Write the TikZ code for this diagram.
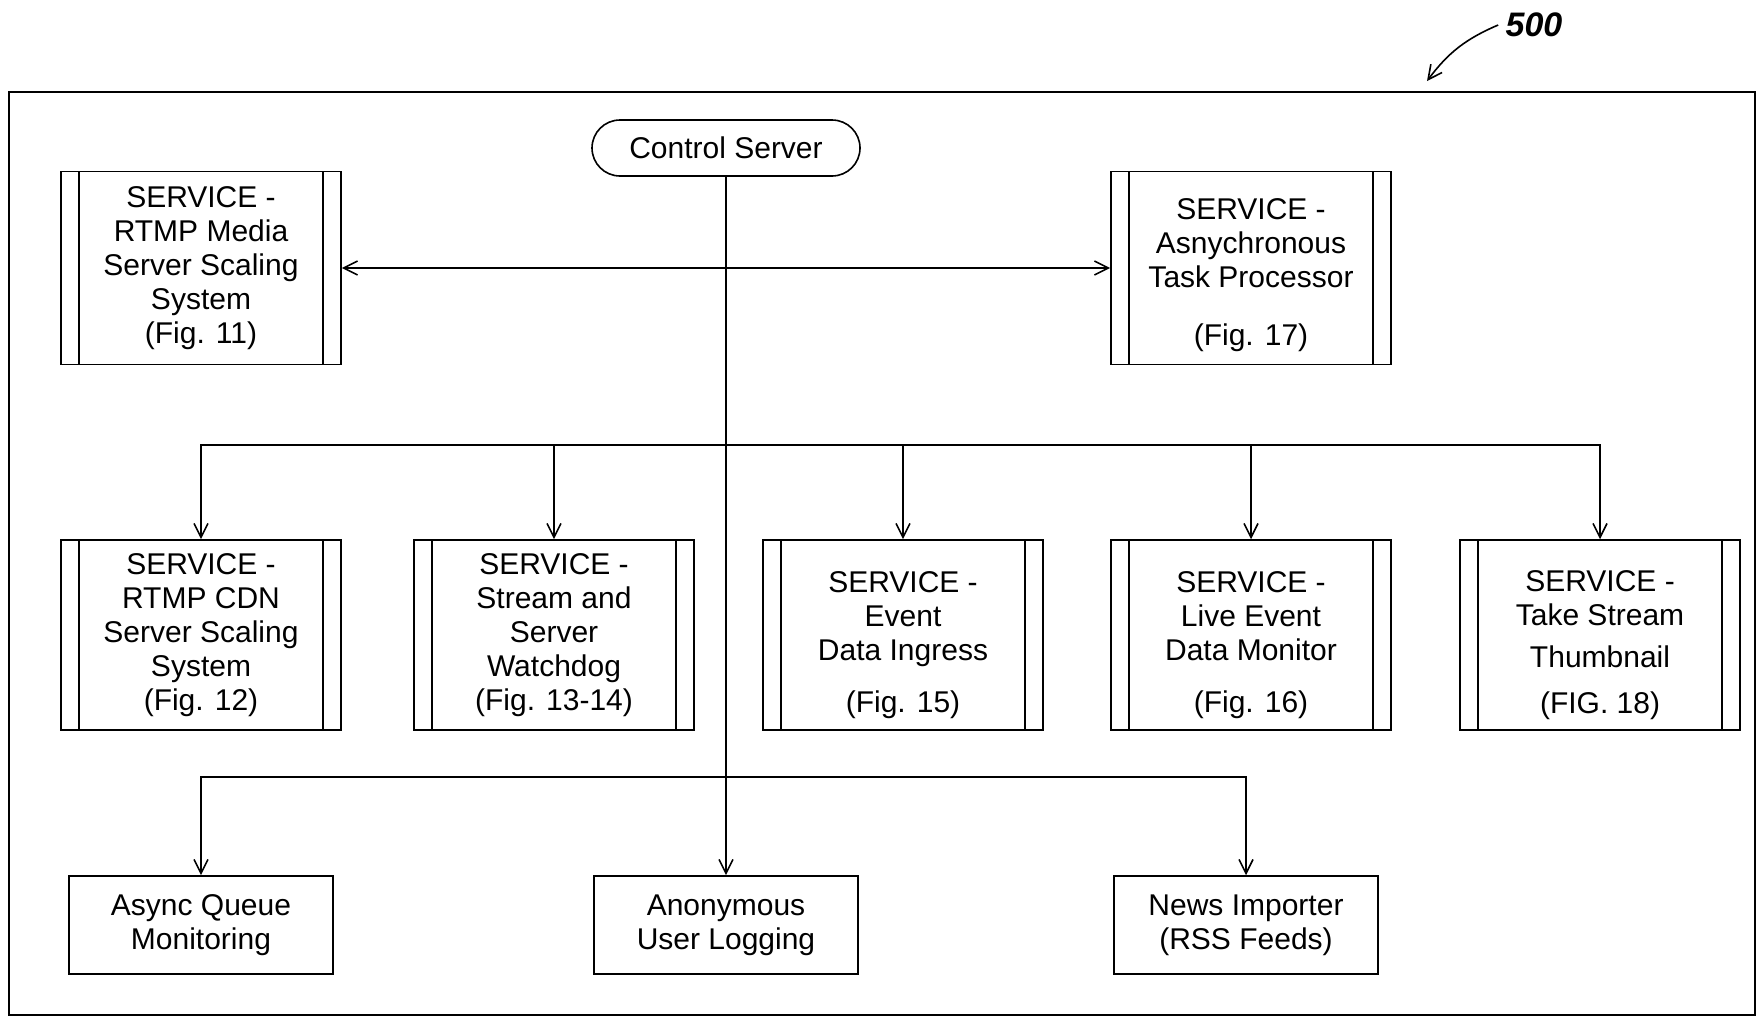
\documentclass[tikz,border=0pt]{standalone}
\usepackage{fontspec}
\setmainfont{Liberation Sans}
\usetikzlibrary{arrows.meta}
\newcommand{\toppad}{\rule{0pt}{20.5pt}}

\begin{document}
\begin{tikzpicture}[x=0.5pt,y=-0.5pt,
    font=\fontsize{15}{17}\selectfont,
    line width=0.8pt,
    arr/.style={-{Straight Barb[length=7pt,width=7pt]}},
    svc/.style={draw,rectangle,align=center,minimum width=140pt,minimum height=95pt,inner sep=0pt,
      path picture={\draw ([xshift=9pt]path picture bounding box.south west)--([xshift=9pt]path picture bounding box.north west)
        ([xshift=-9pt]path picture bounding box.south east)--([xshift=-9pt]path picture bounding box.north east);}},
    plainbox/.style={draw,rectangle,align=center,minimum width=132pt,minimum height=49pt,inner sep=0pt}]
  \useasboundingbox (0,0) rectangle (1759,1017);
  \draw[line width=1.2pt] (9,92) rectangle (1755,1015);
  % reference numeral
  \node[font=\fontsize{17}{19}\selectfont\bfseries\itshape] (ref) at (1534,25) {500};
  \coordinate (reftip) at (1427,81);
  \draw[arr] (ref.west) to[bend right=15] (reftip);
  % top
  \node[draw,rounded corners=14pt,minimum width=134pt,minimum height=28pt] (cs) at (726,148) {Control Server};
  \node[svc,minimum height=96.5pt] (media) at (201,268) {SERVICE -\\RTMP Media\\Server Scaling\\System\\(Fig. 11)};
  \node[svc,minimum height=96.5pt] (async) at (1251,268) {\rule{0pt}{18pt}SERVICE -\\Asnychronous\\Task Processor\\[12pt](Fig. 17)};
  % services
  \node[svc] (cdn) at (201,635) {SERVICE -\\RTMP CDN\\Server Scaling\\System\\(Fig. 12)};
  \node[svc] (watch) at (554,635) {SERVICE -\\Stream and\\Server\\Watchdog\\(Fig. 13-14)};
  \node[svc] (ingress) at (903,635) {\toppad SERVICE -\\Event\\Data Ingress\\[9pt](Fig. 15)};
  \node[svc] (monitor) at (1251,635) {\toppad SERVICE -\\Live Event\\Data Monitor\\[9pt](Fig. 16)};
  \node[svc] (thumb) at (1600,635) {\toppad SERVICE -\\Take Stream\\[4pt]Thumbnail\\[6pt](FIG. 18)};
  % bottom
  \node[plainbox] (queue) at (201,925) {Async Queue\\Monitoring};
  \node[plainbox] (anon) at (726,925) {Anonymous\\User Logging};
  \node[plainbox] (news) at (1246,925) {News Importer\\(RSS Feeds)};
  % connectors
  \coordinate (bus1) at (726,445);
  \coordinate (bus2) at (726,777);
  \draw[{Straight Barb[length=7pt,width=7pt]}-{Straight Barb[length=7pt,width=7pt]}] (media) -- (async);
  \draw[arr] (cs) -- (anon);
  \foreach \n in {cdn,watch,ingress,monitor,thumb}
    \draw[arr] (bus1) -| (\n.north);
  \draw[arr] (bus2) -| (queue.north);
  \draw[arr] (bus2) -| (news.north);
\end{tikzpicture}
\end{document}
